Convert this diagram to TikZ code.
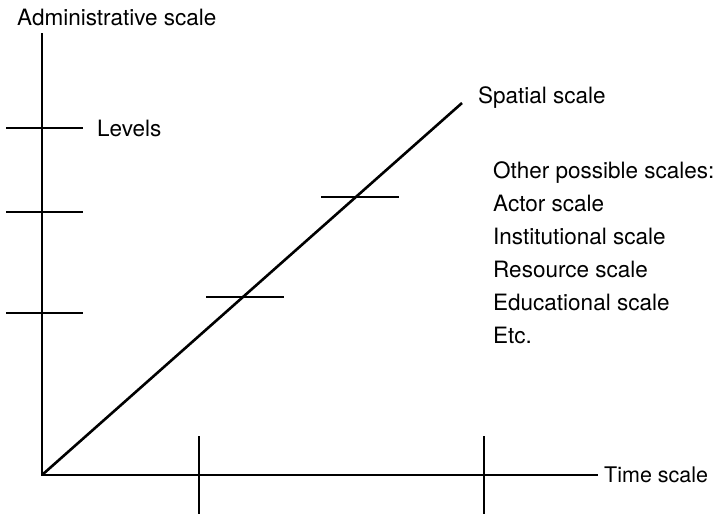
\documentclass[tikz,border=0pt]{standalone}
\usepackage{fontspec}
\setmainfont{TeX Gyre Heros}
\usetikzlibrary{positioning,calc}

\tikzset{
  axis/.style={line width=2.6pt},
  tick/.style={line width=1.2pt},
  lbl/.style={anchor=base west,inner sep=0pt,font=\fontsize{22.5}{27}\selectfont}
}

\begin{document}
\begin{tikzpicture}[x=1pt,y=-1pt]
\useasboundingbox (0,0) rectangle (716,514);
\coordinate (o) at (42,475);
\coordinate (ytop) at (42,33);
\coordinate (xend) at (598,475);
\coordinate (dend) at (462,103);
\node[lbl] (adm) at (17,25) {Administrative scale};
\node[lbl,font=\fontsize{21.5}{27}\selectfont] (time) at (604,482) {Time scale};
\node[lbl] (spat) at (478,103) {Spatial scale};
\node[lbl] (lev) at (97,136) {Levels};
\node[lbl] (oth) at (493,178) {Other possible scales:};
\node[lbl,below=33pt of oth.base west,anchor=base west] (act) {Actor scale};
\node[lbl,below=33pt of act.base west,anchor=base west] (ins) {Institutional scale};
\node[lbl,below=33pt of ins.base west,anchor=base west] (res) {Resource scale};
\node[lbl,below=33pt of res.base west,anchor=base west] (edu) {Educational scale};
\node[lbl,below=33pt of edu.base west,anchor=base west] (etc) {Etc.};
\draw[axis] (ytop) -- (o) -- (xend);
\draw[axis] (o) -- (dend);
% levels on the vertical axis
\foreach \y in {128,212,313}
  \draw[tick] (6,\y) -- (83,\y);
% steps along the time axis
\foreach \x in {199,484}
  \draw[tick] (\x,436) -- (\x,514);
% steps along the spatial scale
\draw[tick] (206,297) -- (284,297);
\draw[tick] (321,197) -- (399,197);
\end{tikzpicture}
\end{document}
